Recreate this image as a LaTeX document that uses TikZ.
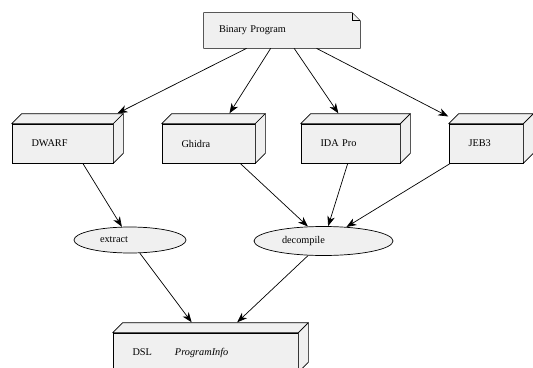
\documentclass[tikz,border=0pt]{standalone}
\usepackage{fontspec}
\setmainfont{Liberation Serif}
\usetikzlibrary{shapes.geometric}
\usetikzlibrary{arrows.meta}
\usetikzlibrary{fit,backgrounds}
\definecolor{boxfill}{HTML}{F0F0F0}

\begin{document}
\begin{tikzpicture}
		[x=1pt, y=-1pt, line width=0.7pt, font=\fontsize{10.3}{12}\selectfont,
		front/.style = {draw, fill=boxfill, minimum height=39pt, inner xsep=19.5pt, inner ysep=0pt, align=left},
		ell/.style = {draw, ellipse, fill=boxfill, minimum height=26pt, inner sep=0pt, align=left},
		note/.style = {minimum width=156pt, minimum height=35pt, text width=126pt, inner xsep=15pt, align=left},
		edge/.style = {-{Stealth[length=10pt, width=7.5pt, inset=3pt]}}]
	\useasboundingbox (0,0) rectangle (533,367);
	\node[note] (binary) at (282,30.5) {Binary Program};
	\node[front, text width=62pt] (dwarf-f) at (62.5,143.5) {DWARF};
	\node[front, text width=54pt] (ghidra-f) at (208.5,143.5) {Ghidra};
	\node[front, text width=60pt] (ida-f) at (350.5,143.5) {IDA Pro};
	\node[front, text width=35pt] (jeb-f) at (486,143.5) {JEB3};
	\node[front, text width=146pt] (dsl-f) at (205.5,352.5) {DSL\hspace{23pt}\textit{ProgramInfo}};
	\node[ell, minimum width=112pt, text width=60pt] (extract) at (130,240) {extract};
	\node[ell, minimum width=139pt, minimum height=29pt, text width=83pt] (decompile) at (323.5,241) {decompile};
	% top and side faces, whole box as one node
	\foreach \n in {dwarf,ghidra,ida,jeb,dsl}{
		\filldraw[fill=boxfill, line join=round] (\n-f.north west) -- ++(10,-10) -- ([shift={(10,-10)}]\n-f.north east) -- (\n-f.north east) -- cycle;
		\filldraw[fill=boxfill, line join=round] (\n-f.north east) -- ++(10,-10) -- ([shift={(10,-10)}]\n-f.south east) -- (\n-f.south east) -- cycle;
		\node[fit={(\n-f.south west) ([shift={(10,-10)}]\n-f.north east)}, inner sep=0pt] (\n) {};
	}
	\begin{scope}[on background layer]
		\filldraw[fill=boxfill] (binary.south west) -- (binary.north west) -- ([xshift=-8pt]binary.north east) -- ([yshift=-8pt]binary.north east) -- (binary.south east) -- cycle;
		\draw ([xshift=-8pt]binary.north east) |- ([yshift=-8pt]binary.north east);
	\end{scope}
	\draw[edge] (binary) -- (dwarf);
	\draw[edge] (binary) -- (ghidra);
	\draw[edge] (binary) -- (ida);
	\draw[edge] (binary) -- (jeb);
	\draw[edge] (dwarf) -- (extract);
	\draw[edge] (ghidra) -- (decompile);
	\draw[edge] (ida) -- (decompile);
	\draw[edge] (jeb) -- (decompile);
	\draw[edge] (extract) -- (dsl);
	\draw[edge] (decompile) -- (dsl);
\end{tikzpicture}
\end{document}
